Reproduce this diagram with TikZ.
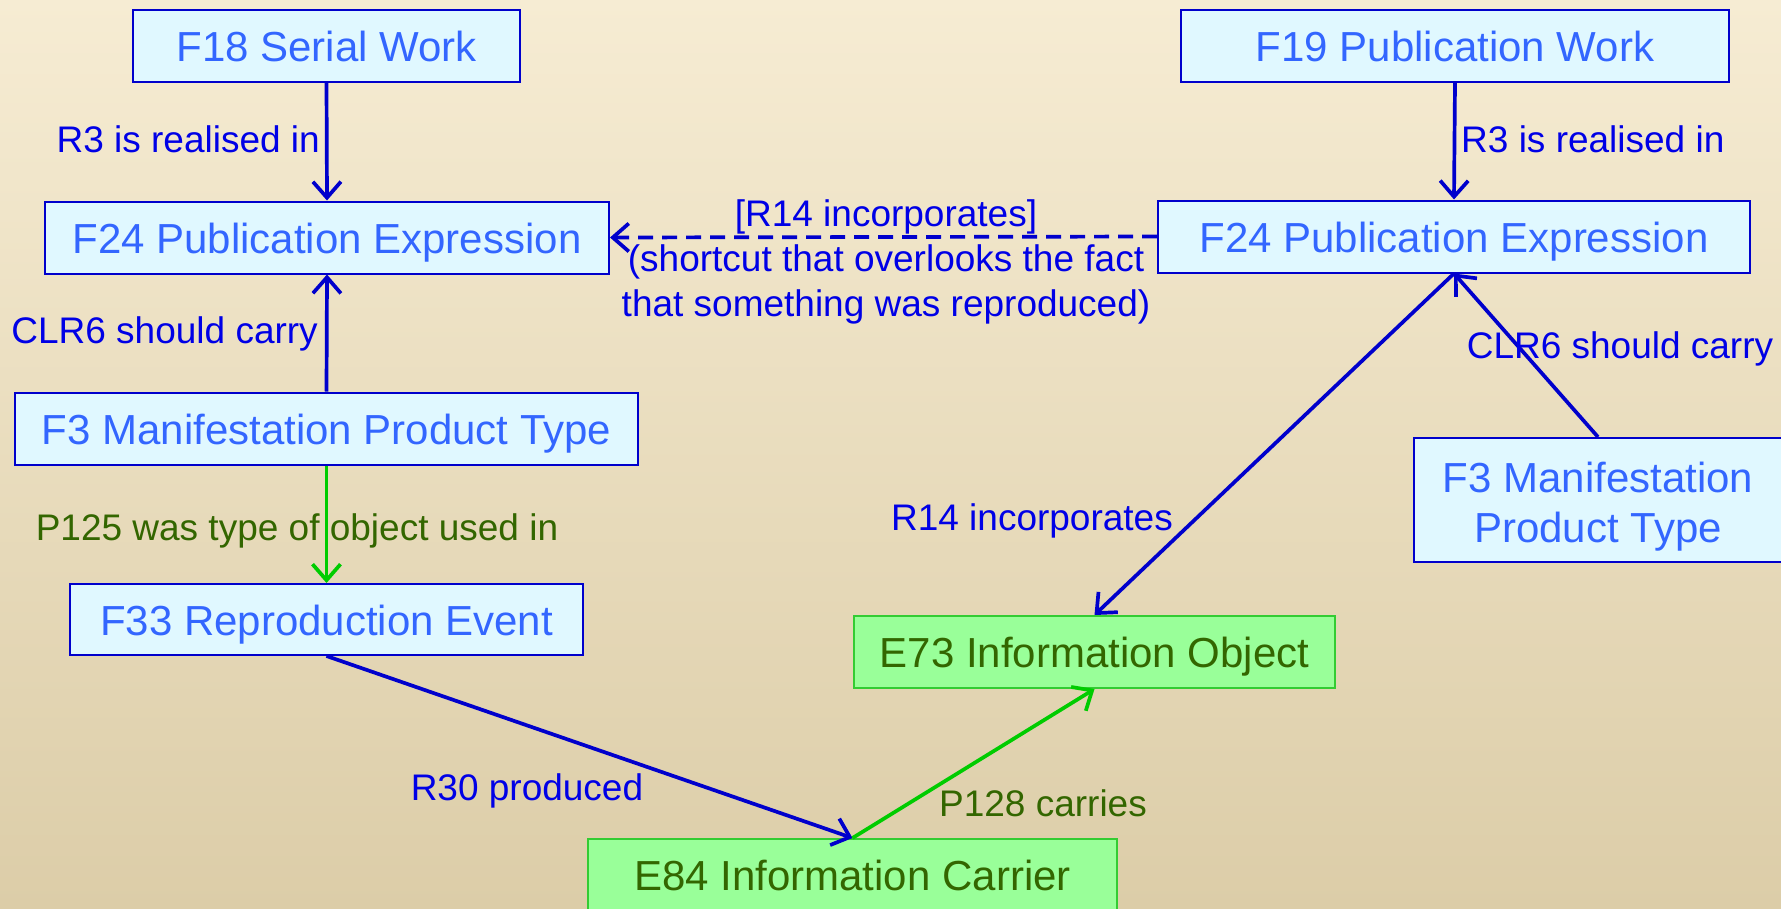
\documentclass[tikz,border=0pt]{standalone}
\usepackage{fontspec}
\setmainfont{Liberation Sans}
\usetikzlibrary{arrows.meta}
\definecolor{bgtop}{RGB}{246,236,211}
\definecolor{bgbot}{RGB}{220,205,168}
\definecolor{nodetext}{RGB}{51,102,255}
\definecolor{nodefill}{RGB}{224,248,255}
\definecolor{nodeline}{RGB}{0,0,204}
\definecolor{lblblue}{RGB}{0,0,230}
\definecolor{arrblue}{RGB}{0,0,204}
\definecolor{gfill}{RGB}{153,255,153}
\definecolor{gline}{RGB}{51,204,51}
\definecolor{gtext}{RGB}{51,102,0}
\definecolor{garrow}{RGB}{0,204,0}
\begin{document}
\begin{tikzpicture}[x=1pt,y=-1pt,
  ent/.style={draw=nodeline, fill=nodefill, line width=2pt, text=nodetext, inner sep=0pt,
    font=\fontsize{42}{50}\selectfont, minimum height=72pt, text height=31pt, text depth=0pt},
  gent/.style={draw=gline, fill=gfill, line width=2pt, text=gtext, inner sep=0pt,
    font=\fontsize{42}{50}\selectfont, minimum height=72pt, text height=31pt, text depth=0pt},
  lbl/.style={text=lblblue, font=\fontsize{37}{45}\selectfont, inner sep=0pt, text height=27pt, text depth=0pt},
  glbl/.style={text=gtext, font=\fontsize{37}{45}\selectfont, inner sep=0pt, text height=27pt, text depth=0pt},
  rel/.style={draw=arrblue, line width=3.7pt, -{Straight Barb[length=16pt,width=28pt]}},
  grel/.style={draw=garrow, line width=3.7pt, -{Straight Barb[length=16pt,width=28pt]}}
]
\useasboundingbox (0,0) rectangle (1781,908);
\fill[top color=bgtop, bottom color=bgbot] (0,0) rectangle (1781,908);

% nodes
\node[ent, minimum width=387pt] (f18) at (326.5,46) {F18 Serial Work};
\node[ent, minimum width=564pt] (f24l) at (327,237.5) {F24 Publication Expression};
\node[ent, minimum width=623pt] (f3l) at (326.5,428.5) {F3 Manifestation Product Type};
\node[ent, minimum width=513pt, minimum height=71pt] (f33) at (326.5,619.5) {F33 Reproduction Event};
\node[gent, minimum width=481pt] (e73) at (1094.5,652) {E73 Information Object};
\node[gent, minimum width=529pt] (e84) at (852.5,875) {E84 Information Carrier};
\node[ent, minimum width=548pt] (f19) at (1455,46) {F19 Publication Work};
\node[ent, minimum width=592pt] (f24r) at (1454,236.5) {F24 Publication Expression};
\node[draw=nodeline, fill=nodefill, line width=2pt, text=nodetext, inner sep=0pt,
  font=\fontsize{42}{50}\selectfont, minimum width=368pt, minimum height=124pt, align=center]
  (f3r) at (1598,500) {\rule{0pt}{43pt}F3 Manifestation\\Product Type};

% connectors
\draw[rel] (f18.south) -- (f24l.north);
\draw[rel] (f3l.north) -- (f24l.south);
\draw[grel] (f3l.south) -- (f33.north);
\draw[rel] (f33.south) -- (e84.north);
\draw[grel] (e84.north) -- (e73.south);
\draw[rel] (f24r.south) -- (e73.north);
\draw[rel] (f3r.north) -- (f24r.south);
\draw[rel] (f19.south) -- (f24r.north);
\draw[rel, dash pattern=on 15pt off 9pt] (f24r.west) -- (f24l.east);

% labels
\node[lbl, anchor=east] (l1) at (320,139) {R3 is realised in};
\node[lbl, anchor=east] (l2) at (318,330) {CLR6 should carry};
\node[glbl] (l3) at (297,527) {P125 was type of object used in};
\node[lbl] (l4) at (527,787) {R30 produced};
\node[glbl] (l5) at (1043,803) {P128 carries};
\node[lbl] (l6) at (1032,517) {R14 incorporates};
\node[lbl] (l7) at (1620,345) {CLR6 should carry};
\node[lbl, anchor=west] (l8) at (1461,139) {R3 is realised in};
\node[text=lblblue, font=\fontsize{37}{45}\selectfont, inner sep=0pt, align=center] (l9) at (886,262)
  {[R14 incorporates]\\(shortcut that overlooks the fact\\that something was reproduced)};
\end{tikzpicture}
\end{document}
